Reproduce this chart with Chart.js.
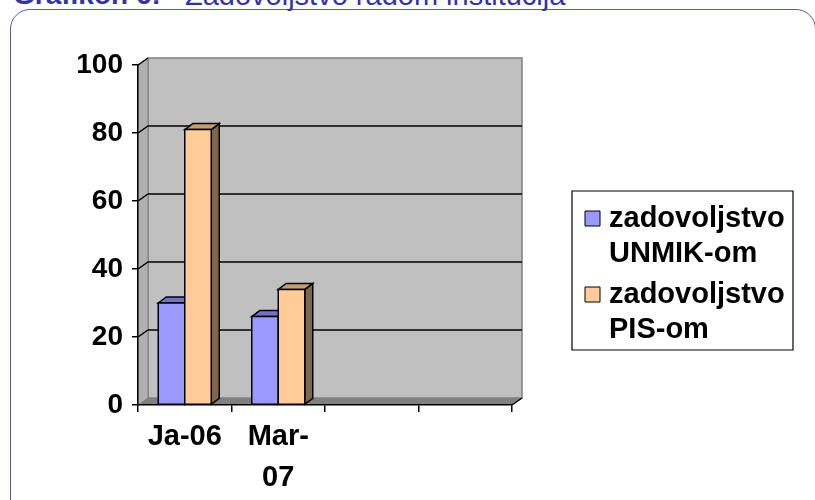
<!DOCTYPE html>
<html>
<head>
<meta charset="utf-8">
<script src="https://cdn.jsdelivr.net/npm/chart.js@4.4.1/dist/chart.umd.min.js"></script>
<style>
  body { margin: 0; background: #fff; overflow: hidden; }
  #wrap { position: relative; width: 815px; height: 500px; }
  .frame { position: absolute; left: 10px; top: 9px; width: 804px; height: 540px;
           border: 1px solid #5a5aa0; border-radius: 20px; }
  .title { position: absolute; top: -19px; font-family: "Liberation Sans", Arial, sans-serif;
           font-size: 28px; line-height: 28px; color: #3333a6; white-space: nowrap; }
  #chartBox { position: absolute; left: 0; top: 0; width: 815px; height: 500px; }
</style>
</head>
<body>
<div id="wrap">
  <div class="frame"></div>
  <span class="title" style="left:13px;font-weight:bold">Grafikon 6:</span>
  <span class="title" style="left:185px;font-size:29px">Zadovoljstvo radom institucija</span>
  <div id="chartBox"><canvas id="myChart"></canvas></div>
</div>
<script>
// data
var categories = ['Ja-06', ['Mar-', '07'], '', ''];
var unmikValues = [30, 26, null, null];
var pisValues = [81, 34, null, null];
var seriesNames = [['zadovoljstvo', 'UNMIK-om'], ['zadovoljstvo', 'PIS-om']];
var yTicks = [0, 20, 40, 60, 80, 100];

var FONT = '"Liberation Sans", Arial, sans-serif';
var DX = 10, DY = -7;      // depth of the walls
var BDX = 8, BDY = -6;     // depth of the bars

function poly(ctx, pts, fill, stroke, lw) {
    ctx.beginPath();
    ctx.moveTo(pts[0][0], pts[0][1]);
    for (var i = 1; i < pts.length; i++) ctx.lineTo(pts[i][0], pts[i][1]);
    ctx.closePath();
    if (fill) { ctx.fillStyle = fill; ctx.fill(); }
    if (stroke) { ctx.strokeStyle = stroke; ctx.lineWidth = lw || 1; ctx.stroke(); }
}

var walls = {
    id: 'walls',
    beforeDraw: function(chart) {
        var ctx = chart.ctx, a = chart.chartArea, y = chart.scales.y;
        ctx.save();
        // back wall
        poly(ctx, [[a.left + DX, a.top + DY], [a.right + DX, a.top + DY],
                   [a.right + DX, a.bottom + DY], [a.left + DX, a.bottom + DY]], '#c0c0c0', '#808080', 1.5);
        // left wall
        poly(ctx, [[a.left, a.top], [a.left + DX, a.top + DY],
                   [a.left + DX, a.bottom + DY], [a.left, a.bottom]], '#b0b0b0', '#808080', 1);
        // floor
        poly(ctx, [[a.left, a.bottom], [a.left + DX, a.bottom + DY],
                   [a.right + DX, a.bottom + DY], [a.right, a.bottom]], '#808080', null);
        // gridlines on the back wall
        ctx.strokeStyle = '#000';
        ctx.lineWidth = 1.5;
        yTicks.forEach(function(v) {
            if (v === 0) return;
            var p = y.getPixelForValue(v);
            ctx.beginPath();
            ctx.moveTo(a.left, p);
            ctx.lineTo(a.left + DX, p + DY);
            if (v !== 100) ctx.lineTo(a.right + DX, p + DY);
            ctx.stroke();
        });
        // right end of floor
        ctx.beginPath();
        ctx.moveTo(a.right, a.bottom);
        ctx.lineTo(a.right + DX, a.bottom + DY);
        ctx.stroke();
        ctx.restore();
    }
};

var bars3d = {
    id: 'bars3d',
    afterDatasetsDraw: function(chart) {
        var ctx = chart.ctx;
        ctx.save();
        ctx.lineJoin = 'miter';
        for (var i = 0; i < categories.length; i++) {
            chart.data.datasets.forEach(function(ds, d) {
                var el = chart.getDatasetMeta(d).data[i];
                if (!el || ds.data[i] == null) return;
                var l = el.x - el.width / 2, r = el.x + el.width / 2, t = el.y, b = el.base;
                poly(ctx, [[r, t], [r + BDX, t + BDY], [r + BDX, b + BDY], [r, b]], ds.sideColor, '#000', 1.5);
                poly(ctx, [[l, t], [l + BDX, t + BDY], [r + BDX, t + BDY], [r, t]], ds.topColor, '#000', 1.5);
                poly(ctx, [[l, t], [r, t], [r, b], [l, b]], ds.backgroundColor, '#000', 1.5);
            });
        }
        ctx.restore();
    }
};

var boxLegend = {
    id: 'boxLegend',
    afterDraw: function(chart) {
        var ctx = chart.ctx;
        ctx.save();
        poly(ctx, [[572, 191], [793, 191], [793, 350], [572, 350]], '#fff', '#000', 1.2);
        var base = [227, 303];
        ctx.font = 'bold 29px ' + FONT;
        ctx.textBaseline = 'alphabetic';
        chart.data.datasets.forEach(function(ds, d) {
            poly(ctx, [[585, base[d] - 16], [600, base[d] - 16], [600, base[d] - 1], [585, base[d] - 1]],
                 ds.backgroundColor, '#000', 1);
            ctx.fillStyle = '#000';
            seriesNames[d].forEach(function(line, k) {
                ctx.fillText(line, 609, base[d] + k * 35);
            });
        });
        ctx.restore();
    }
};

new Chart(document.getElementById('myChart'), {
    type: 'bar',
    data: {
        labels: categories,
        datasets: [
            { label: 'zadovoljstvo UNMIK-om', data: unmikValues, backgroundColor: '#9999ff',
              topColor: '#7373c6', sideColor: '#4d4d80', borderColor: '#000', borderWidth: 1.5,
              borderSkipped: false },
            { label: 'zadovoljstvo PIS-om', data: pisValues, backgroundColor: '#ffcc99',
              topColor: '#c49c74', sideColor: '#80664d', borderColor: '#000', borderWidth: 1.5,
              borderSkipped: false }
        ]
    },
    options: {
        responsive: true,
        maintainAspectRatio: false,
        animation: false,
        events: [],
        categoryPercentage: 0.567,
        barPercentage: 1,
        layout: { padding: { left: 68, right: 303, top: 65, bottom: 0 } },
        plugins: { legend: { display: false }, tooltip: { enabled: false } },
        scales: {
            x: {
                grid: { offset: true, drawOnChartArea: false, tickLength: 7, color: '#000', lineWidth: 1.5 },
                border: { color: '#000', width: 1.5 },
                ticks: { color: '#000', font: { family: FONT, size: 29, weight: 'bold', lineHeight: 1.4 },
                         padding: 5, maxRotation: 0, autoSkip: false },
                afterFit: function(s) { s.height = 95; }
            },
            y: {
                min: 0, max: 100,
                afterBuildTicks: function(s) { s.ticks = yTicks.map(function(v) { return { value: v }; }); },
                grid: { drawOnChartArea: false, tickLength: 6, color: '#000', lineWidth: 1.5 },
                border: { color: '#000', width: 1.5 },
                ticks: { color: '#000', font: { family: FONT, size: 28, weight: 'bold' }, padding: 9 },
                afterFit: function(s) { s.width = 70; }
            }
        }
    },
    plugins: [walls, bars3d, boxLegend]
});
</script>
</body>
</html>
